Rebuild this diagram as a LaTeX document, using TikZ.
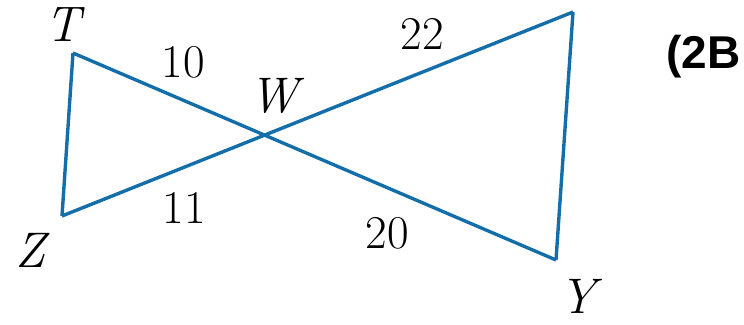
\documentclass[tikz,border=0pt]{standalone}
\usepackage{fontspec}
\newfontfamily\labelsans{Liberation Sans}
\definecolor{sideblue}{RGB}{20,110,170}
\tikzset{
  side/.style={draw=sideblue,line width=3.4pt,line join=miter},
  lbl/.style={font=\fontsize{47}{54}\selectfont,inner sep=0pt},
  vtx/.style={lbl,font=\fontsize{50}{56}\selectfont\itshape},
}
\begin{document}
\begin{tikzpicture}[x=1pt,y=-1pt]
\useasboundingbox (0,0) rectangle (744,324);

\coordinate (T) at (73,53);
\coordinate (Z) at (62,216);
\coordinate (V) at (573,12);
\coordinate (Y) at (556,260);
\coordinate (W) at (265,135);

\draw[side] (T) -- (Y);
\draw[side] (Z) -- (V);
\draw[side] (T) -- (Z);
\draw[side] (V) -- (Y);

\node[vtx] (lT) at (63,25) {T};
\node[vtx] (lZ) at (31,250) {Z};
\node[vtx] (lW) at (274,96) {W};
\node[vtx] (lY) at (578,296) {Y};

\node[lbl] (n10) at (183,62) {10};
\node[lbl] (n11) at (184,208) {11};
\node[lbl] (n22) at (422,34) {22};
\node[lbl] (n20) at (387,233) {20};

\node[lbl,font=\labelsans\bfseries\fontsize{46}{52}\selectfont,anchor=west] (tag) at (666,57) {(2B};
\end{tikzpicture}
\end{document}
